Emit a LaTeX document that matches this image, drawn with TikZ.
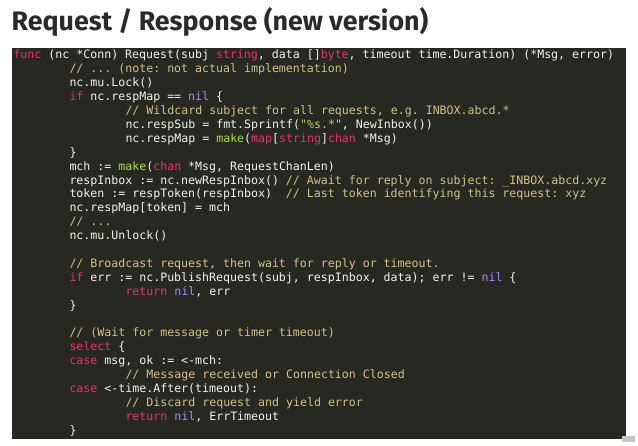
\documentclass[tikz,border=0pt]{standalone}
\usepackage{fontspec}
\setmonofont{DejaVu Sans Mono}
\newfontfamily\titlefont{Fira Sans}
\definecolor{codebg}{HTML}{272822}
\definecolor{codefg}{HTML}{F2F2EC}
\definecolor{kwcol}{HTML}{EC2F6E}
\definecolor{nilcol}{HTML}{AE81FF}
\definecolor{comcol}{HTML}{D0C185}
\definecolor{fncol}{HTML}{A6E22E}
\definecolor{strcol}{HTML}{B4D850}
\definecolor{titlecol}{HTML}{2A2A2A}
\newcommand\ckw[1]{\textcolor{kwcol}{#1}}
\newcommand\cnil[1]{\textcolor{nilcol}{#1}}
\newcommand\ccom[1]{\textcolor{comcol}{#1}}
\newcommand\cfn[1]{\textcolor{fncol}{#1}}
\newcommand\cstrg[1]{\textcolor{strcol}{#1}}
\tikzset{
  codeline/.style={anchor=base west, inner sep=0pt, outer sep=0pt, text=codefg,
    font=\ttfamily\fontsize{11.6}{13.9}\selectfont},
  titletext/.style={anchor=base west, inner sep=0pt, text=titlecol,
    font=\titlefont\bfseries\fontsize{26.8}{30}\selectfont},
  codepanel/.style={fill=codebg, anchor=north west, inner sep=0pt, draw=none},
  pagebadge/.style={fill=gray!45, inner sep=0pt, draw=none}
}
\begin{document}
\begin{tikzpicture}[x=1pt,y=-1pt]
\useasboundingbox (0,0) rectangle (638,446);
\fill[white] (0,0) rectangle (638,446);
\node[titletext] (title) at (11.5,30.5) {Request / Response (new version)};
\node[codepanel, minimum width=613.5pt, minimum height=391pt] (box) at (12,47.5) {};
\def\ia{13.5}
\def\ib{69.5}
\def\ic{125.5}
\node[codeline] (l1) at (\ia,59.0) {\ckw{func} (nc *Conn) Request(subj \ckw{string}, data []\ckw{byte}, timeout time.Duration) (*Msg, error)};
\node[codeline] (l2) at (\ib,72.9) {\ccom{// ... (note: not actual implementation)}};
\node[codeline] (l3) at (\ib,86.8) {nc.mu.Lock()};
\node[codeline] (l4) at (\ib,100.7) {\ckw{if} nc.respMap == \cnil{nil} \{};
\node[codeline] (l5) at (\ic,114.6) {\ccom{// Wildcard subject for all requests, e.g. INBOX.abcd.*}};
\node[codeline] (l6) at (\ic,128.5) {nc.respSub = fmt.Sprintf(\cstrg{"\%s.*"}, NewInbox())};
\node[codeline] (l7) at (\ic,142.4) {nc.respMap = \cfn{make}(\ckw{map}[\ckw{string}]\ckw{chan} *Msg)};
\node[codeline] (l8) at (\ib,156.3) {\}};
\node[codeline] (l9) at (\ib,170.2) {mch := \cfn{make}(\ckw{chan} *Msg, RequestChanLen)};
\node[codeline] (l10) at (\ib,184.1) {respInbox := nc.newRespInbox() \ccom{// Await for reply on subject: \_INBOX.abcd.xyz}};
\node[codeline] (l11) at (\ib,198.0) {token := respToken(respInbox)~ \ccom{// Last token identifying this request: xyz}};
\node[codeline] (l12) at (\ib,211.9) {nc.respMap[token] = mch};
\node[codeline] (l13) at (\ib,225.8) {\ccom{// ...}};
\node[codeline] (l14) at (\ib,239.7) {nc.mu.Unlock()};
\node[codeline] (l16) at (\ib,267.5) {\ccom{// Broadcast request, then wait for reply or timeout.}};
\node[codeline] (l17) at (\ib,281.4) {\ckw{if} err := nc.PublishRequest(subj, respInbox, data); err != \cnil{nil} \{};
\node[codeline] (l18) at (\ic,295.3) {\ckw{return} \cnil{nil}, err};
\node[codeline] (l19) at (\ib,309.2) {\}};
\node[codeline] (l21) at (\ib,337.0) {\ccom{// (Wait for message or timer timeout)}};
\node[codeline] (l22) at (\ib,350.9) {\ckw{select} \{};
\node[codeline] (l23) at (\ib,364.8) {\ckw{case} msg, ok := <-mch:};
\node[codeline] (l24) at (\ic,378.7) {\ccom{// Message received or Connection Closed}};
\node[codeline] (l25) at (\ib,392.6) {\ckw{case} <-time.After(timeout):};
\node[codeline] (l26) at (\ic,406.5) {\ccom{// Discard request and yield error}};
\node[codeline] (l27) at (\ic,420.4) {\ckw{return} \cnil{nil}, ErrTimeout};
\node[codeline] (l28) at (\ib,434.3) {\}};
\node[pagebadge, minimum width=13pt, minimum height=6pt] (badge) at (628.5,439.5) {};
\end{tikzpicture}
\end{document}
